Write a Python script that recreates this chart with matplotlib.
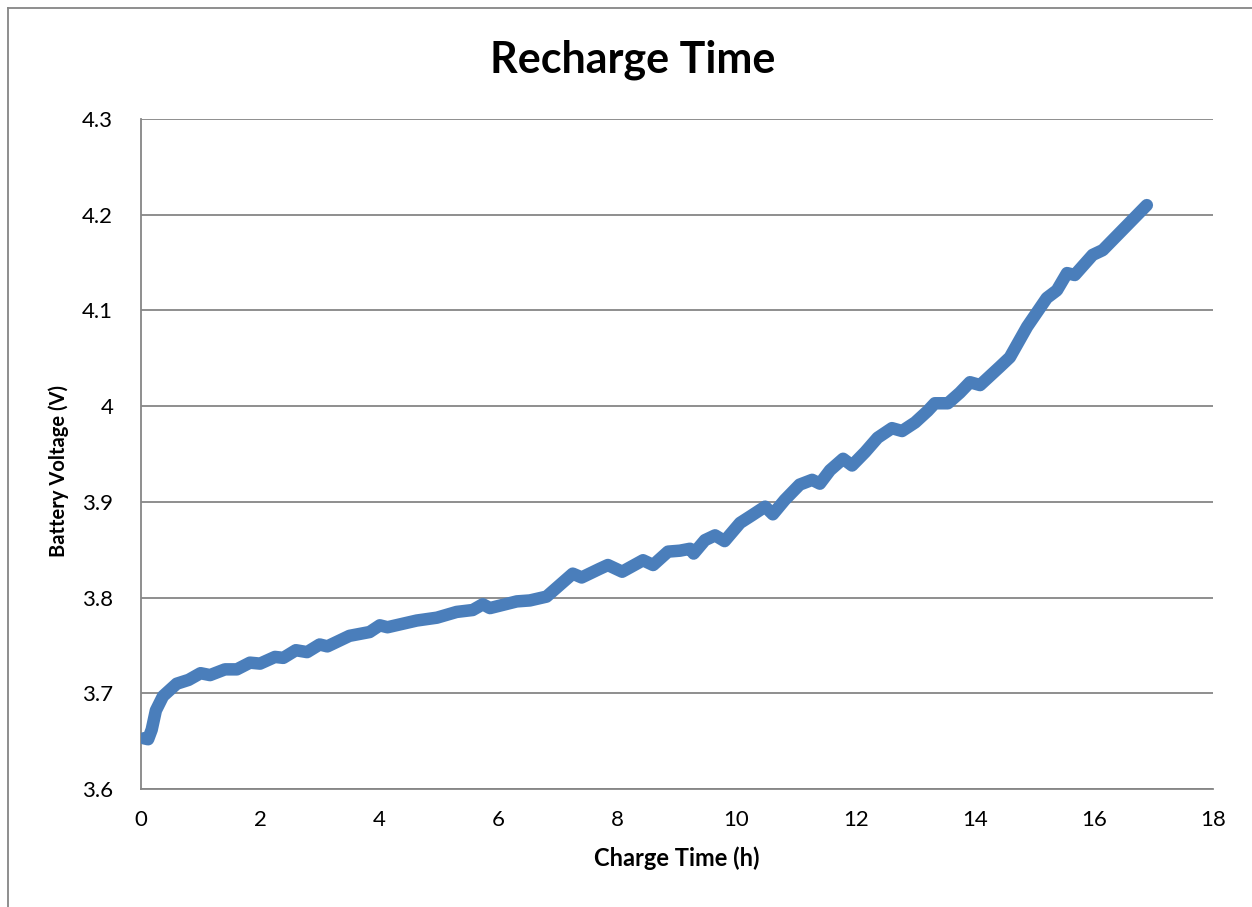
import matplotlib.pyplot as plt
from matplotlib.lines import Line2D

# charge time (h) and battery voltage (V)
charge_time = [0.05, 0.12, 0.18, 0.25, 0.37, 0.6, 0.8, 1.0, 1.16, 1.41, 1.61, 1.83, 2.0,
               2.25, 2.39, 2.6, 2.79, 3.0, 3.13, 3.5, 3.84, 4.01, 4.14, 4.63, 4.97, 5.3,
               5.57, 5.74, 5.86, 6.31, 6.53, 6.81, 7.03, 7.25, 7.4, 7.7, 7.84, 8.08, 8.43,
               8.6, 8.85, 9.05, 9.22, 9.28, 9.47, 9.64, 9.8, 10.06, 10.26, 10.48, 10.61,
               10.81, 11.06, 11.27, 11.4, 11.57, 11.79, 11.94, 12.16, 12.37, 12.61, 12.78,
               13.0, 13.21, 13.33, 13.55, 13.75, 13.92, 14.09, 14.42, 14.59, 14.88, 15.21,
               15.38, 15.55, 15.68, 15.98, 16.15, 16.89]
voltage = [3.653, 3.652, 3.662, 3.682, 3.697, 3.71, 3.714, 3.721, 3.719, 3.725, 3.725,
           3.732, 3.731, 3.738, 3.737, 3.745, 3.743, 3.751, 3.749, 3.76, 3.764, 3.771,
           3.769, 3.776, 3.779, 3.785, 3.787, 3.793, 3.789, 3.796, 3.797, 3.801, 3.813,
           3.825, 3.821, 3.83, 3.834, 3.827, 3.839, 3.834, 3.848, 3.849, 3.851, 3.846,
           3.86, 3.865, 3.859, 3.878, 3.886, 3.895, 3.887, 3.902, 3.918, 3.923, 3.919,
           3.933, 3.945, 3.938, 3.952, 3.967, 3.977, 3.974, 3.983, 3.995, 4.003, 4.003,
           4.014, 4.025, 4.022, 4.041, 4.051, 4.083, 4.113, 4.121, 4.139, 4.137, 4.158,
           4.163, 4.21]

x_ticks = [0, 2, 4, 6, 8, 10, 12, 14, 16, 18]
y_ticks = [3.6, 3.7, 3.8, 3.9, 4.0, 4.1, 4.2, 4.3]
y_tick_labels = ['3.6', '3.7', '3.8', '3.9', '4', '4.1', '4.2', '4.3']

plt.rcParams['font.family'] = ['Lato', 'DejaVu Sans']

fig = plt.figure(figsize=(12.52, 9.07), dpi=100)
ax = fig.add_axes([0.1126, 0.1301, 0.8562, 0.7387])

ax.plot(charge_time, voltage, color='#4a7ebb', linewidth=9,
        solid_capstyle='round', solid_joinstyle='round', zorder=3)

ax.set_xlim(0, 18)
ax.set_ylim(3.6, 4.3)
ax.set_xticks(x_ticks)
ax.set_yticks(y_ticks)
ax.set_yticklabels(y_tick_labels)
ax.tick_params(length=0, labelsize=16)
ax.tick_params(axis='x', pad=15)
ax.tick_params(axis='y', pad=20)
ax.grid(axis='y', color='#868686', linewidth=1.3)
ax.set_axisbelow(True)

for side in ['top', 'right']:
    ax.spines[side].set_visible(False)
for side in ['left', 'bottom']:
    ax.spines[side].set_color('#868686')
    ax.spines[side].set_linewidth(1.3)

fig.text(0.505, 1 - 60 / 907, 'Recharge Time', fontsize=31, fontweight='bold',
         ha='center', va='center')
ax.set_xlabel('Charge Time (h)', fontsize=17, fontweight='bold', labelpad=12)
fig.text(59 / 1252, 1 - 471 / 907, 'Battery Voltage (V)', fontsize=14.5, fontweight='bold',
         rotation=90, ha='center', va='center')

# outer chart border (top and left visible)
fig.add_artist(Line2D([8 / 1252, 8 / 1252], [0.0, 1 - 8 / 907], transform=fig.transFigure,
                      color='#868686', linewidth=1.3))
fig.add_artist(Line2D([8 / 1252, 1.0], [1 - 8 / 907, 1 - 8 / 907], transform=fig.transFigure,
                      color='#868686', linewidth=1.3))

fig.savefig('out.png', dpi=100)
